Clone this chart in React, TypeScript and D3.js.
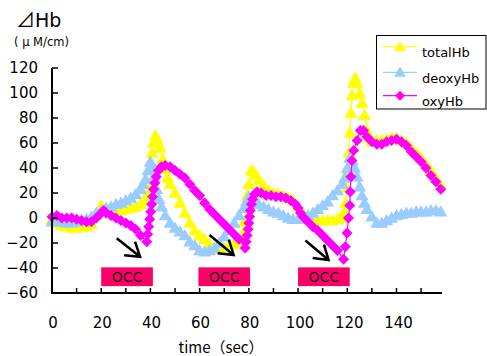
import React, { useEffect, useRef } from 'react';
import * as d3 from 'd3';

type Pt = [number, number];

// [time (sec), ⊿Hb (μM/cm)]
const totalHb: Pt[] = [
  [0, -1], [2, -4], [4, -6], [6, -7], [8, -8], [10, -8], [12, -7], [14, -7], [16, -5], [18, 2],
  [20, 10], [22, 6], [24, 6], [26, 6], [28, 6], [30, 7], [32, 8], [34, 9], [36, 11], [38, 14],
  [39, 20], [39.6, 27], [40.2, 40], [40.7, 52], [41.3, 60], [42, 66], [43, 62], [44, 56], [45, 47],
  [46, 39], [47, 32], [48, 27], [50, 20], [52, 12], [54, 4], [56, -4], [58, -10], [60, -14],
  [62, -17], [64, -21], [66, -24], [68, -25], [70, -24], [72, -22], [74, -21], [76, -18],
  [77.5, -13], [78.2, -3], [78.8, 8], [79.4, 18], [80, 27], [81, 38], [82, 37], [83, 34], [84, 30],
  [86, 26], [88, 22], [90, 20], [92, 19], [94, 18], [96, 16], [98, 14], [100, 9], [102, 4],
  [104, 1], [106, -1], [108, -2], [110, -2], [112, -2], [114, -2], [116, -1], [118, 0],
  [118.8, 5], [119.3, 12], [119.8, 24], [120.3, 38], [120.7, 52], [121.1, 68], [121.5, 84],
  [121.9, 98], [122.5, 108], [123.2, 112], [124, 108], [125, 100], [126, 92], [127, 82], [128, 70],
  [129, 64], [130, 61], [132, 62], [134, 62], [136, 63], [138, 64], [140, 64], [142, 62],
  [144, 60], [146, 56], [148, 52], [150, 48], [152, 43], [154, 38], [156, 32], [158, 26],
];

const deoxyHb: Pt[] = [
  [0, -3], [2, -3], [4, -3], [6, -4], [8, -4], [10, -3], [12, -2], [14, -1], [16, 1], [18, 4],
  [20, 6], [22, 8], [24, 9], [26, 11], [28, 12], [30, 14], [32, 16], [34, 19], [36, 23], [37, 27],
  [38, 31], [39, 38], [40, 45], [40.8, 40], [41.5, 33], [42.5, 23], [43.5, 15], [44.5, 9], [46, 2],
  [48, -4], [50, -8], [52, -11], [54, -14], [56, -19], [58, -22], [60, -26], [62, -27], [64, -26],
  [66, -24], [68, -20], [70, -15], [72, -10], [74, -4], [76, 2], [78, 8], [79, 13], [80, 17],
  [81, 15], [82, 13], [84, 11], [86, 9], [88, 7], [90, 5], [92, 4], [94, 2], [96, 0], [98, -1],
  [100, -1], [102, 0], [104, 2], [106, 4], [108, 7], [110, 10], [112, 13], [114, 18], [116, 22],
  [118, 27], [119, 32], [120, 40], [121, 48], [122, 46], [123, 40], [124, 33], [125, 25],
  [126, 18], [127, 12], [128, 7], [130, 1], [132, -4], [134, -4], [136, -2], [138, 0], [140, 2],
  [142, 3], [144, 4], [146, 4], [148, 5], [150, 5], [152, 5], [154, 6], [156, 6], [158, 5],
];

const oxyHb: Pt[] = [
  [0, 1], [2, 2], [4, 0], [6, 0], [8, 0], [10, -1], [12, -2], [14, -3], [16, -3], [18, 0],
  [20, 4], [21, 6], [22, 4], [24, 2], [26, 0], [28, -2], [30, -4], [32, -6], [34, -9], [36, -14],
  [38.5, -19], [38.9, -13], [39.3, -7], [39.7, -1], [40.1, 5], [40.5, 11], [40.9, 17], [41.3, 23],
  [41.8, 28], [42.4, 33], [43.2, 38], [44.4, 41], [46, 42], [48, 41], [50, 38], [52, 35],
  [54, 32], [56, 27], [58, 22], [60, 18], [62, 12], [64, 7], [66, 3], [68, -1], [70, -5],
  [72, -9], [74, -13], [76, -17], [78.5, -24], [78.9, -19], [79.3, -14], [79.7, -9], [80, -4],
  [80.3, 1], [80.6, 6], [81, 11], [81.5, 15], [82.3, 19], [83.3, 21], [85, 20], [87, 18],
  [89, 18], [91, 17], [93, 17], [95, 16], [97, 14], [99, 11], [100, 8], [101, 4], [102, 1],
  [104, -3], [106, -7], [108, -10], [110, -14], [112, -18], [114, -22], [116, -26], [118.5, -33],
  [119.2, -23], [119.9, -12], [120.5, 0], [121, 10], [121.2, 21], [121.5, 33], [121.9, 46],
  [122.6, 54], [124, 62], [125.3, 70], [126.6, 70], [128, 65], [130, 61], [132, 59], [134, 59],
  [136, 61], [138, 62], [140, 63], [142, 61], [144, 58], [146, 53], [148, 49], [150, 45],
  [152, 40], [154, 34], [156, 29], [158, 23],
];

const seriesNames = ['totalHb', 'deoxyHb', 'oxyHb'];
const xTicks = [0, 20, 40, 60, 80, 100, 120, 140];
const xMinorTicks = [0, 10, 20, 30, 40, 50, 60, 70, 80, 90, 100, 110, 120, 130, 140, 150];
const yTicks = [-60, -40, -20, 0, 20, 40, 60, 80, 100, 120];

// occlusion periods [start, end] (sec)
const occPeriods: Pt[] = [[20, 41], [59.5, 80.5], [100, 121]];
// arrows [t0, v0, t1, v1]
const arrows: [number, number, number, number][] = [
  [26.3, -16.2, 35.8, -31],
  [64, -13.6, 73.8, -29.6],
  [103, -18, 112.4, -33.6],
];

const colors = ['#ffff00', '#99ccff', '#ff00ff'];
const font = '"DejaVu Sans", sans-serif';
const jpFont = '"Noto Sans CJK JP", sans-serif';

const App: React.FC = () => {
  const ref = useRef<SVGSVGElement>(null);

  useEffect(() => {
    if (!ref.current) return;
    const svg = d3.select(ref.current);
    svg.selectAll('*').remove();

    const x = d3.scaleLinear().domain([0, 158.5]).range([52, 442]);
    const y = d3.scaleLinear().domain([-60, 120]).range([293, 68]);

    const tri = d3.symbol().type(d3.symbolTriangle).size(75);
    const diamond = 'M0,-5.5L5.5,0L0,5.5L-5.5,0Z';

    const line = d3.line<Pt>().x(d => x(d[0])).y(d => y(d[1]));
    const data = [totalHb, deoxyHb, oxyHb];

    data.forEach((s, i) => {
      const g = svg.append('g');
      g.append('path')
        .attr('d', line(s))
        .attr('fill', 'none')
        .attr('stroke', colors[i])
        .attr('stroke-width', 1.2);
      g.selectAll('path.m')
        .data(s)
        .enter().append('path')
        .attr('class', 'm')
        .attr('d', i === 2 ? diamond : (tri() as string))
        .attr('transform', d => `translate(${x(d[0])},${y(d[1]) + (i === 2 ? 0 : 1)})`)
        .attr('fill', colors[i]);
    });

    // axes
    const ax = svg.append('g').attr('stroke', '#000');
    ax.append('path')
      .attr('d', `M${x(0)},${y(120)}V${y(-60)}H${x.range()[1]}`)
      .attr('fill', 'none')
      .attr('stroke-width', 2);
    ax.selectAll('line.yt')
      .data(yTicks)
      .enter().append('line')
      .attr('x1', x(0)).attr('x2', x(0) + 6)
      .attr('y1', d => y(d)).attr('y2', d => y(d))
      .attr('stroke-width', 1.5);
    ax.selectAll('line.xt')
      .data(xMinorTicks)
      .enter().append('line')
      .attr('x1', d => x(d)).attr('x2', d => x(d))
      .attr('y1', y(-60)).attr('y2', y(-60) - 5)
      .attr('stroke-width', 1.5);

    svg.selectAll('text.yl')
      .data(yTicks)
      .enter().append('text')
      .attr('x', 38)
      .attr('y', d => y(d))
      .attr('dy', '0.36em')
      .attr('text-anchor', 'end')
      .attr('font-family', font)
      .attr('font-size', 15)
      .text(d => (d < 0 ? '\u2212' + Math.abs(d) : String(d)));

    svg.selectAll('text.xl')
      .data(xTicks)
      .enter().append('text')
      .attr('x', d => x(d) + (d >= 100 ? 2 : 1))
      .attr('y', 323)
      .attr('dy', '0.36em')
      .attr('text-anchor', 'middle')
      .attr('font-family', font)
      .attr('font-size', 15)
      .text(d => d);

    svg.append('text')
      .attr('x', 221).attr('y', 348).attr('dy', '0.36em')
      .attr('text-anchor', 'middle')
      .attr('font-family', jpFont)
      .attr('font-size', 15)
      .text('time（sec）');

    const title = svg.append('text')
      .attr('x', 16).attr('y', 27)
      .attr('font-family', font)
      .attr('font-size', 19);
    title.append('tspan').attr('font-family', jpFont).text('⊿');
    title.append('tspan').text('Hb');
    svg.append('text')
      .attr('x', 14).attr('y', 46)
      .attr('font-family', font)
      .attr('font-size', 11.5)
      .text('( μ M/cm)');

    // OCC boxes
    const occ = svg.selectAll('g.occ')
      .data(occPeriods)
      .enter().append('g');
    occ.append('rect')
      .attr('x', d => x(d[0]))
      .attr('y', y(-39.5))
      .attr('width', d => x(d[1]) - x(d[0]))
      .attr('height', y(-54.5) - y(-39.5))
      .attr('fill', '#ff0066');
    occ.append('text')
      .attr('x', d => (x(d[0]) + x(d[1])) / 2)
      .attr('y', (y(-39.5) + y(-54.5)) / 2)
      .attr('dy', '0.36em')
      .attr('text-anchor', 'middle')
      .attr('font-family', font)
      .attr('font-size', 14)
      .attr('font-weight', 500)
      .attr('fill', '#1a1a1a')
      .text('OCC');

    // arrows
    arrows.forEach(([t0, v0, t1, v1]) => {
      const x0 = x(t0), y0 = y(v0), x1 = x(t1), y1 = y(v1);
      const a = Math.atan2(y0 - y1, x0 - x1);
      const len = 16, spread = 0.58;
      const h1 = [x1 + len * Math.cos(a - spread), y1 + len * Math.sin(a - spread)];
      const h2 = [x1 + len * Math.cos(a + spread), y1 + len * Math.sin(a + spread)];
      svg.append('path')
        .attr('d', `M${x0},${y0}L${x1},${y1}M${h1[0]},${h1[1]}L${x1},${y1}L${h2[0]},${h2[1]}`)
        .attr('fill', 'none')
        .attr('stroke', '#000')
        .attr('stroke-width', 2.5);
    });

    // legend
    const lg = svg.append('g');
    lg.append('rect')
      .attr('x', 376.5).attr('y', 35.5)
      .attr('width', 109.5).attr('height', 73.5)
      .attr('fill', '#fff').attr('stroke', '#000').attr('stroke-width', 1);
    const rows = [46.7, 72.3, 95.7];
    const legendTri = d3.symbol().type(d3.symbolTriangle).size(60);
    const legendDiamond = 'M0,-5L5,0L0,5L-5,0Z';
    seriesNames.forEach((name, i) => {
      const ly = rows[i];
      lg.append('line')
        .attr('x1', 383).attr('x2', 417)
        .attr('y1', ly).attr('y2', ly)
        .attr('stroke', colors[i]).attr('stroke-width', 1.2);
      lg.append('path')
        .attr('d', i === 2 ? legendDiamond : (legendTri() as string))
        .attr('transform', `translate(400,${ly + (i === 2 ? 0 : 1)})`)
        .attr('fill', colors[i]);
      lg.append('text')
        .attr('x', 422).attr('y', ly + 6).attr('dy', '0.36em')
        .attr('font-family', font)
        .attr('font-size', 13)
        .text(name);
    });
  }, []);

  return (
    <svg
      ref={ref}
      width={487}
      height={356}
      style={{ position: 'absolute', left: 0, top: 0, background: '#fff' }}
    />
  );
};

export default App;
